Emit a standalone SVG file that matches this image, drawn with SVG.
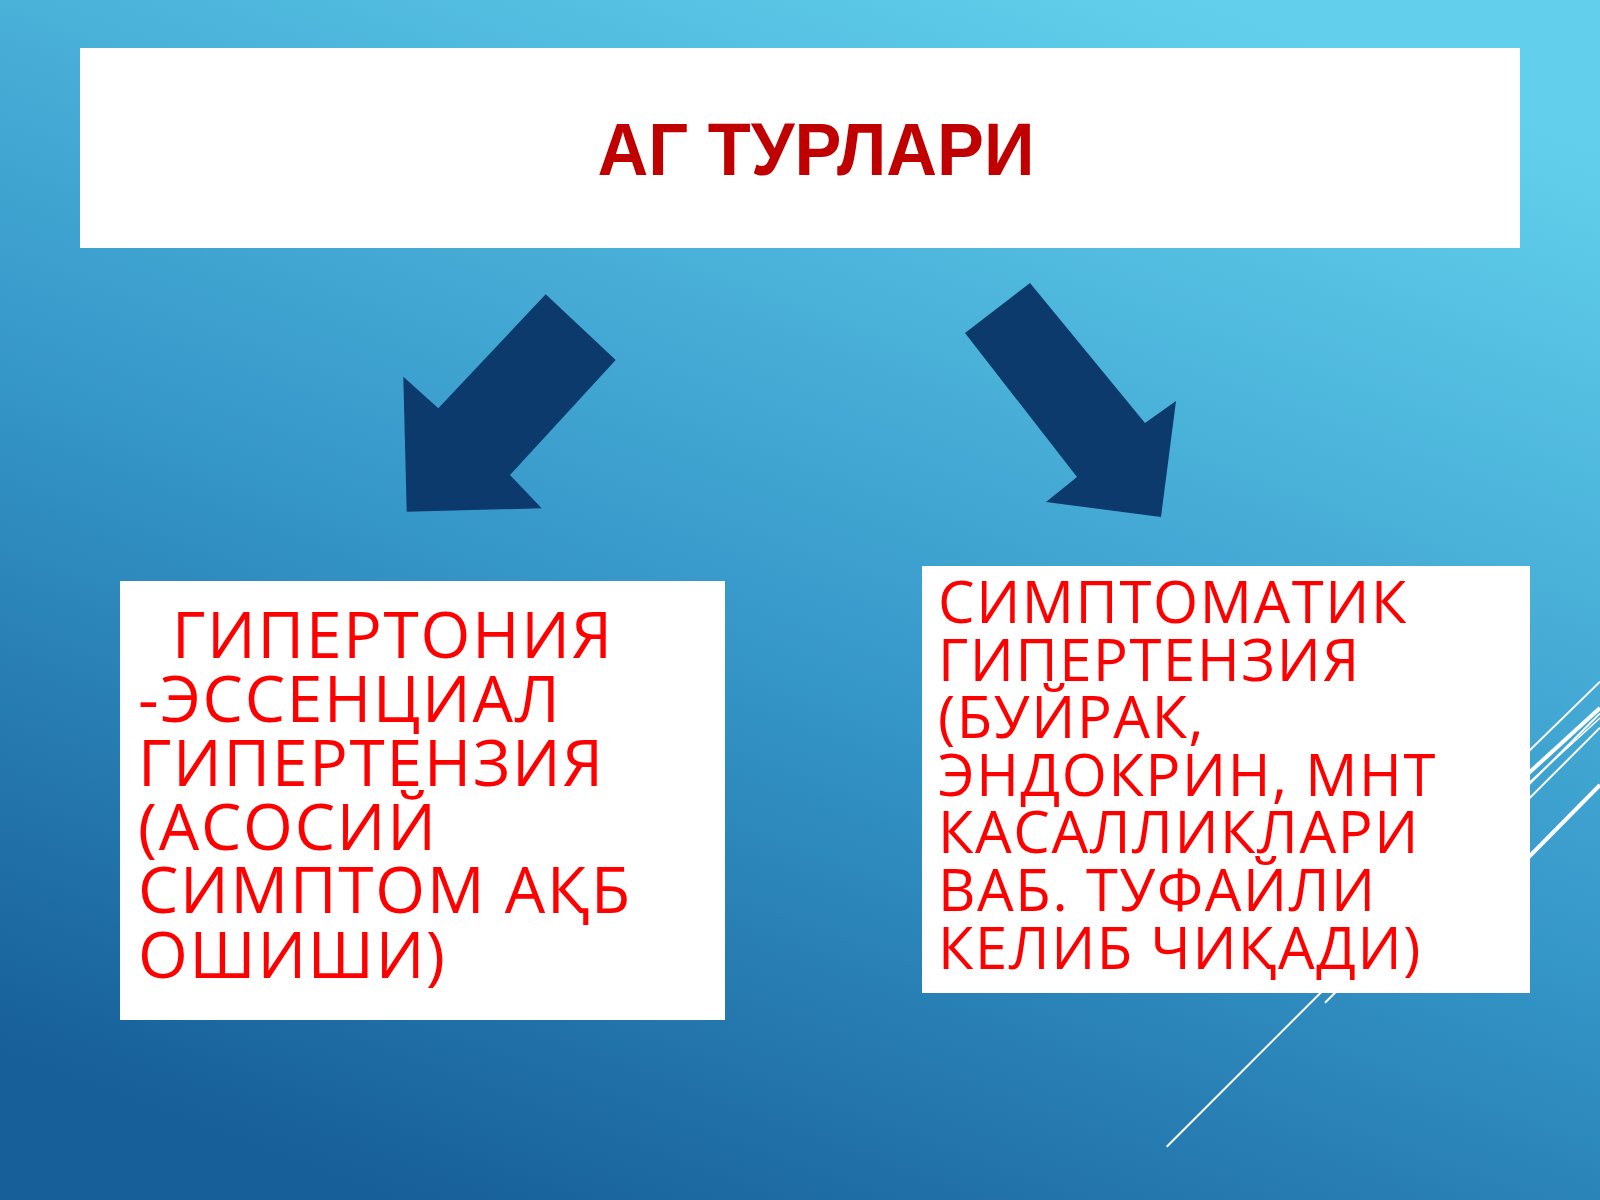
<svg xmlns="http://www.w3.org/2000/svg" width="1600" height="1200" viewBox="0 0 1600 1200">
<defs>
<linearGradient id="bg" x1="0.25" y1="1" x2="0.75" y2="0">
<stop offset="0" stop-color="#175f98"/>
<stop offset="0.45" stop-color="#3596c8"/>
<stop offset="1" stop-color="#62d0ec"/>
</linearGradient>
<style>
.box{fill:#ffffff}
.arrow{fill:#0c3a6c}
.deco{stroke:#ffffff;fill:none}
.title{font-family:"Liberation Sans",Arial,sans-serif;font-weight:bold;font-size:74px;fill:#c00000}
.body{font-family:"Open Sans","Noto Sans",sans-serif;fill:#ff0000}
</style>
</defs>
<rect x="0" y="0" width="1600" height="1200" fill="url(#bg)"/>
<g id="decor">
<line class="deco" x1="1166.7" y1="1146.7" x2="1600" y2="713.4" stroke-width="2" stroke="#bfefff"/>
<line class="deco" x1="1325" y1="1002.7" x2="1600" y2="727.7" stroke-width="2"/>
<line class="deco" x1="1520" y1="759.7" x2="1600" y2="681.7" stroke-width="2" stroke="#cdf3ff"/>
<line class="deco" x1="1520" y1="781" x2="1600" y2="708" stroke-width="4"/>
<line class="deco" x1="1520" y1="791" x2="1600" y2="718" stroke-width="1.5" stroke="#cdf3ff"/>
<line class="deco" x1="1520" y1="866" x2="1600" y2="785" stroke-width="4"/>
</g>
<g id="title-node">
<rect class="box" x="80" y="48" width="1440" height="200"/>
<text class="title" x="816" y="175" text-anchor="middle" textLength="437" lengthAdjust="spacingAndGlyphs">АГ ТУРЛАРИ</text>
</g>
<g id="connectors">
<polygon class="arrow" points="545.7,294.3 615.7,360 510,475 541.7,508.3 406.7,511.7 403.3,376.7 438.3,408.3"/>
<polygon class="arrow" points="1030,283 1145,423 1176,401 1161,517 1046,502 1077,477 965,333"/>
</g>
<g id="left-node">
<rect class="box" x="120" y="581" width="605" height="439"/>
<text class="body" font-size="64" letter-spacing="1.8">
<tspan x="172" y="658">ГИПЕРТОНИЯ</tspan>
<tspan x="138" y="722">-ЭССЕНЦИАЛ</tspan>
<tspan x="138" y="786">ГИПЕРТЕНЗИЯ</tspan>
<tspan x="138" y="850">(АСОСИЙ</tspan>
<tspan x="138" y="913">СИМПТОМ АҚБ</tspan>
<tspan x="138" y="978">ОШИШИ)</tspan>
</text>
</g>
<g id="right-node">
<rect class="box" x="922" y="566" width="608" height="427"/>
<text class="body" font-size="58" letter-spacing="1.6">
<tspan x="938" y="623">СИМПТОМАТИК</tspan>
<tspan x="938" y="681">ГИПЕРТЕНЗИЯ</tspan>
<tspan x="938" y="738">(БУЙРАК,</tspan>
<tspan x="938" y="796">ЭНДОКРИН, МНТ</tspan>
<tspan x="938" y="853">КАСАЛЛИКЛАРИ</tspan>
<tspan x="938" y="911">ВАБ. ТУФАЙЛИ</tspan>
<tspan x="938" y="969">КЕЛИБ ЧИҚАДИ)</tspan>
</text>
</g>
</svg>
